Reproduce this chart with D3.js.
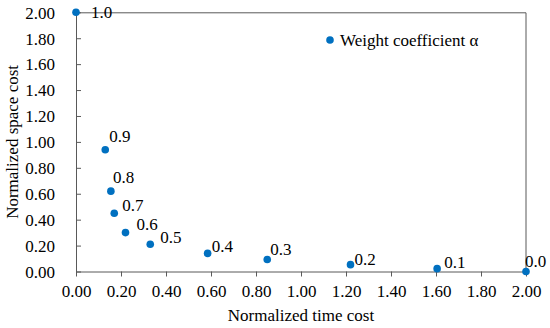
<!DOCTYPE html>
<html>
<head>
<meta charset="utf-8">
<script src="https://cdn.jsdelivr.net/npm/d3@7"></script>
<style>
  html, body { margin: 0; padding: 0; background: #fff; overflow: hidden; }
  svg { display: block; }
  svg text { fill: #000; }
</style>
</head>
<body>
<div id="chart"></div>
<script>
// ========== DATA ==========
const alphaLabels = ["1.0", "0.9", "0.8", "0.7", "0.6", "0.5", "0.4", "0.3", "0.2", "0.1", "0.0"];
const timeCost  = [0.00, 0.13, 0.155, 0.17, 0.22, 0.33, 0.585, 0.85, 1.22, 1.605, 2.00];
const spaceCost = [2.00, 0.94, 0.62, 0.45, 0.30, 0.21, 0.14, 0.093, 0.053, 0.022, 0.00];
const xTicks = [0, 0.2, 0.4, 0.6, 0.8, 1.0, 1.2, 1.4, 1.6, 1.8, 2.0];
const yTicks = [0, 0.2, 0.4, 0.6, 0.8, 1.0, 1.2, 1.4, 1.6, 1.8, 2.0];

// label nudges (dx to text start, dy to text middle), hand placed like the original
const labelNudge = [[15, 0], [4, -13], [2, -13.5], [8, -7.5], [11, -8.5], [10, -7],
                    [4, -7.5], [3, -10.5], [4, -5.5], [7, -6], [-1, -10]];

const width = 550, height = 328;
const margin = { top: 12.3, right: 24, bottom: 56.5, left: 76 };
const innerWidth = width - margin.left - margin.right;
const innerHeight = height - margin.top - margin.bottom;
const blue = "#0070c0";
const axisGray = "#595959";
const serif = "'Liberation Serif', 'Times New Roman', serif";
const fontSize = 17;

const data = alphaLabels.map((a, i) => ({ alpha: a, x: timeCost[i], y: spaceCost[i] }));

// ========== SET UP CHART AREA ==========
const svg = d3.select("#chart")
    .append("svg")
    .attr("width", width)
    .attr("height", height)
    .attr("font-family", serif);

const inner = svg.append("g")
    .attr("transform", `translate(${margin.left}, ${margin.top})`);

const xScale = d3.scaleLinear().domain([0, 2]).range([0, innerWidth]);
const yScale = d3.scaleLinear().domain([0, 2]).range([innerHeight, 0]);

// top and right border of the plot area
inner.append("path")
    .attr("d", `M0,0.5H${innerWidth}V${innerHeight}`)
    .attr("fill", "none")
    .attr("stroke", axisGray)
    .attr("stroke-width", 1);

// ========== AXES ==========
const bottomAxis = d3.axisBottom(xScale)
    .tickValues(xTicks)
    .tickFormat(d3.format(".2f"))
    .tickSizeInner(5)
    .tickSizeOuter(0)
    .tickPadding(8);
const gx = inner.append("g")
    .attr("transform", `translate(0, ${innerHeight})`)
    .call(bottomAxis);

const leftAxis = d3.axisLeft(yScale)
    .tickValues(yTicks)
    .tickFormat(d3.format(".2f"))
    .tickSizeInner(-5)
    .tickSizeOuter(0)
    .tickPadding(21);
const gy = inner.append("g").call(leftAxis);

[gx, gy].forEach(g => {
    g.attr("font-family", serif).attr("font-size", fontSize);
    g.select(".domain").attr("stroke", axisGray);
    g.selectAll(".tick line").attr("stroke", axisGray);
    g.selectAll(".tick text").attr("fill", "#000");
});
gy.selectAll(".tick text").attr("dy", "0.34em");

// axis titles
svg.append("text")
    .text("Normalized time cost")
    .attr("x", margin.left + innerWidth / 2)
    .attr("y", 321)
    .attr("text-anchor", "middle")
    .attr("font-size", fontSize);

svg.append("text")
    .text("Normalized space cost")
    .attr("transform", `translate(18, ${margin.top + innerHeight / 2}) rotate(-90)`)
    .attr("text-anchor", "middle")
    .attr("font-size", fontSize);

// ========== POINTS ==========
inner.selectAll("circle.pt")
    .data(data)
    .join("circle")
    .attr("class", "pt")
    .attr("cx", d => xScale(d.x))
    .attr("cy", d => yScale(d.y))
    .attr("r", 3.8)
    .attr("fill", blue);

inner.selectAll("text.lbl")
    .data(data)
    .join("text")
    .attr("class", "lbl")
    .attr("x", (d, i) => xScale(d.x) + labelNudge[i][0])
    .attr("y", (d, i) => yScale(d.y) + labelNudge[i][1])
    .attr("dy", "0.34em")
    .attr("font-size", fontSize)
    .text(d => d.alpha);

// ========== LEGEND ==========
const legend = svg.append("g")
    .attr("transform", "translate(330, 40)");
legend.append("circle")
    .attr("r", 3.8)
    .attr("fill", blue);
legend.append("text")
    .attr("x", 10)
    .attr("y", 0)
    .attr("dy", "0.34em")
    .attr("font-size", fontSize)
    .text("Weight coefficient α");
</script>
</body>
</html>
